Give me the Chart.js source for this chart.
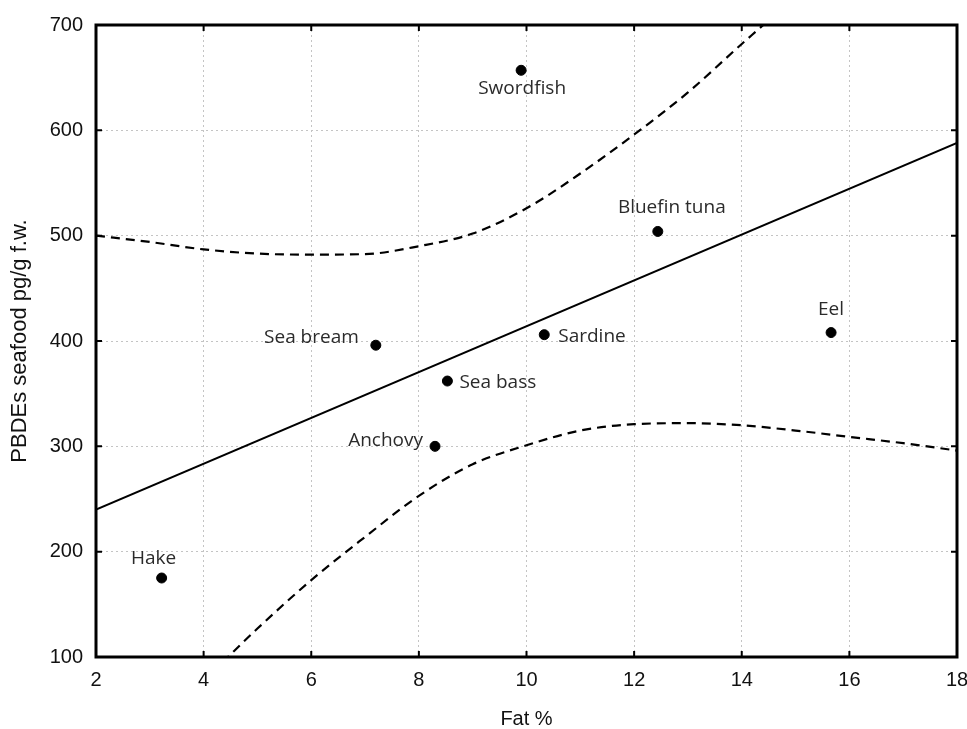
<!DOCTYPE html>
<html>
<head>
<meta charset="utf-8">
<title>PBDEs vs fat</title>
<script src="https://cdn.jsdelivr.net/npm/chart.js@4/dist/chart.umd.min.js"></script>
<style>
  html, body { margin: 0; padding: 0; background: #fff; }
  #wrap { width: 967px; height: 729px; }
</style>
</head>
<body>
<div id="wrap"><canvas id="pbdeChart" width="967" height="729"></canvas></div>
<script>
// Species measurements: fat content (%) and PBDEs (pg/g f.w.)
const species = ['Hake', 'Swordfish', 'Bluefin tuna', 'Sea bream', 'Sardine', 'Sea bass', 'Anchovy', 'Eel'];
const fatPct = [3.22, 9.9, 12.44, 7.2, 10.33, 8.53, 8.3, 15.66];
const pbdes = [175, 657, 504, 396, 406, 362, 300, 408];

// Fitted regression line (end points)
const fitX = [2, 18];
const fitY = [240, 588];

// 95% confidence band
const upperX = [2, 3, 4, 5, 6, 7, 8, 9, 10, 11, 12, 13, 14, 14.4, 14.7];
const upperY = [500, 494, 487, 483, 482, 482.5, 490, 502, 526, 559, 596, 636, 682, 700, 714];
const lowerX = [4.35, 5, 6, 7, 8, 9, 10, 11, 12, 13, 14, 15, 16, 17, 18];
const lowerY = [95, 127, 173, 214, 253, 283, 301, 315, 321, 322, 320, 315, 309, 303, 296];

// Axis tick values
const xTicks = [2, 4, 6, 8, 10, 12, 14, 16, 18];
const yTicks = [100, 200, 300, 400, 500, 600, 700];

// Where each species name sits relative to its dot
const labelPlacement = {
  'Hake':         { dx: -8,  dy: -19, align: 'center' },
  'Swordfish':    { dx: 1,   dy: 18,  align: 'center' },
  'Bluefin tuna': { dx: 14,  dy: -24, align: 'center' },
  'Sea bream':    { dx: -17, dy: -8,  align: 'right' },
  'Sardine':      { dx: 14,  dy: 2,   align: 'left' },
  'Sea bass':     { dx: 12,  dy: 2,   align: 'left' },
  'Anchovy':      { dx: -12, dy: -6,  align: 'right' },
  'Eel':          { dx: 0,   dy: -23, align: 'center' }
};

const pairs = (xs, ys) => xs.map((x, i) => ({ x: x, y: ys[i] }));

// Names next to the dots
const speciesLabels = {
  id: 'speciesLabels',
  afterDatasetsDraw(chart) {
    const meta = chart.getDatasetMeta(0);
    const ctx = chart.ctx;
    ctx.save();
    ctx.font = '19px "Open Sans", "Noto Sans", sans-serif';
    ctx.fillStyle = '#2b2b2b';
    ctx.textBaseline = 'middle';
    meta.data.forEach((pt, i) => {
      const p = labelPlacement[species[i]];
      ctx.textAlign = p.align;
      ctx.fillText(species[i], pt.x + p.dx, pt.y + p.dy);
    });
    ctx.restore();
  }
};

// Frame around the plot with inward tick marks on all four sides
const frameBox = {
  id: 'frameBox',
  afterDraw(chart) {
    const { ctx, chartArea: a, scales } = chart;
    const tl = 6;
    ctx.save();
    ctx.strokeStyle = '#000';
    ctx.lineWidth = 2;
    ctx.beginPath();
    scales.x.ticks.forEach(t => {
      const px = scales.x.getPixelForValue(t.value);
      ctx.moveTo(px, a.bottom); ctx.lineTo(px, a.bottom - tl);
      ctx.moveTo(px, a.top); ctx.lineTo(px, a.top + tl);
    });
    scales.y.ticks.forEach(t => {
      const py = scales.y.getPixelForValue(t.value);
      ctx.moveTo(a.left, py); ctx.lineTo(a.left + tl, py);
      ctx.moveTo(a.right, py); ctx.lineTo(a.right - tl, py);
    });
    ctx.stroke();
    ctx.lineWidth = 3;
    ctx.strokeRect(a.left, a.top, a.right - a.left, a.bottom - a.top);
    ctx.restore();
  }
};

const tickFont = { family: '"Liberation Sans", Arial, sans-serif', size: 20 };

new Chart(document.getElementById('pbdeChart').getContext('2d'), {
  type: 'scatter',
  data: {
    datasets: [
      {
        label: 'Species',
        data: pairs(fatPct, pbdes),
        backgroundColor: '#000',
        borderColor: '#000',
        pointRadius: 5,
        showLine: false
      },
      {
        label: 'Fit',
        data: pairs(fitX, fitY),
        borderColor: '#000',
        borderWidth: 2,
        pointRadius: 0,
        showLine: true
      },
      {
        label: 'Upper 95%',
        data: pairs(upperX, upperY),
        borderColor: '#000',
        borderWidth: 2.2,
        borderDash: [9, 6],
        pointRadius: 0,
        showLine: true,
        cubicInterpolationMode: 'monotone'
      },
      {
        label: 'Lower 95%',
        data: pairs(lowerX, lowerY),
        borderColor: '#000',
        borderWidth: 2.2,
        borderDash: [9, 6],
        pointRadius: 0,
        showLine: true,
        cubicInterpolationMode: 'monotone'
      }
    ]
  },
  options: {
    responsive: false,
    animation: false,
    layout: { padding: { left: 0, right: 10, top: 24, bottom: 0 } },
    plugins: {
      legend: { display: false },
      tooltip: { enabled: false }
    },
    scales: {
      x: {
        type: 'linear',
        min: 2,
        max: 18,
        afterBuildTicks: scale => { scale.ticks = xTicks.map(v => ({ value: v })); },
        afterFit: scale => {
          scale.height = 72;
          // keep the end labels from shrinking the plot area
          scale.paddingLeft = 0;
          scale.paddingRight = 0;
        },
        grid: { color: '#c4c4c4', lineWidth: 1, drawTicks: false },
        border: { display: false, dash: [2, 3] },
        ticks: { font: tickFont, color: '#111', padding: 11, maxRotation: 0 },
        title: {
          display: true, text: 'Fat %', color: '#111', padding: 0,
          font: { family: '"Liberation Sans", Arial, sans-serif', size: 20, lineHeight: 1 }
        }
      },
      y: {
        type: 'linear',
        min: 100,
        max: 700,
        afterBuildTicks: scale => { scale.ticks = yTicks.map(v => ({ value: v })); },
        afterFit: scale => { scale.width = 96; },
        grid: { color: '#c4c4c4', lineWidth: 1, drawTicks: false },
        border: { display: false, dash: [2, 3] },
        ticks: { font: tickFont, color: '#111', padding: 13 },
        title: {
          display: true, text: 'PBDEs seafood pg/g f.w.', color: '#111', padding: { top: 9, bottom: 0 },
          font: { family: '"Liberation Sans", Arial, sans-serif', size: 22, lineHeight: 1 }
        }
      }
    }
  },
  plugins: [speciesLabels, frameBox]
});
</script>
</body>
</html>
